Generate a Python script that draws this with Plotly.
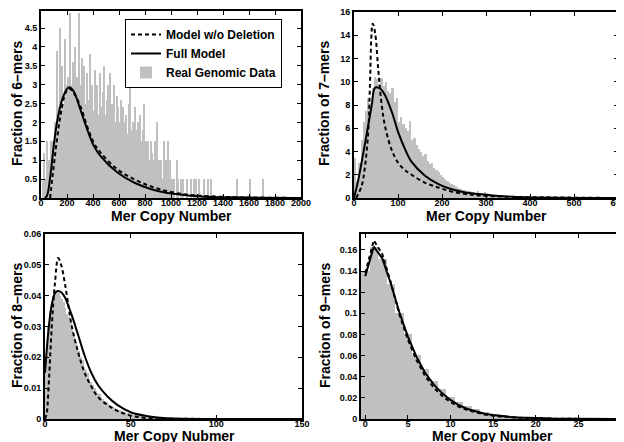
import plotly.graph_objects as go

# ---------------- data ----------------
# 6-mers histogram (bin width 10, centres 5..1095)
hist6_y = [
    0.0, 0.5, 1.2, 0.5, 1.5, 0.7, 1.0, 1.5, 0.5, 1.5,
    2.0, 1.6, 3.9, 2.4, 4.5, 2.8, 3.5, 2.5, 4.2, 3.0,
    3.2, 2.7, 4.9, 3.0, 3.6, 2.8, 4.0, 3.2, 2.6, 4.9,
    3.0, 3.7, 2.8, 3.5, 2.5, 3.3, 2.6, 3.8, 2.4, 3.0,
    2.3, 3.4, 2.6, 3.0, 2.2, 3.3, 2.4, 2.8, 3.5, 2.2,
    2.6, 3.0, 2.0, 3.3, 2.5, 2.2, 3.0, 2.0, 2.7, 2.4,
    2.0, 2.6, 1.8, 2.4, 2.0, 2.2, 1.7, 2.5, 3.0, 1.8,
    2.0, 1.5, 2.4, 1.8, 2.0, 1.5, 2.2, 1.5, 1.8, 2.5,
    1.5, 1.2, 1.5, 1.0, 1.5, 1.2, 1.0, 1.5, 1.2, 2.0,
    1.0, 0.5, 1.0, 0.5, 1.5, 0.5, 1.0, 1.5, 0.5, 1.0,
    0.5, 0.0, 0.5, 0.0, 1.0, 0.5, 0.0, 0.5, 0.0, 0.5,
]
hist6_x = [5 + 10 * i for i in range(len(hist6_y))]
sparse6_x = [1125, 1155, 1175, 1195, 1215, 1255, 1285, 1305, 1505, 1605, 1705]
sparse6_y = [0.5, 0.5, 0.5, 0.5, 0.5, 0.5, 0.5, 0.5, 0.5, 0.5, 0.5]

full6_x = [30, 46, 72, 98, 123, 162, 200, 219, 252, 303, 355, 406, 458, 586, 715, 843, 972, 1100, 1229, 1400, 1600, 2000]
full6_y = [0.0, 0.06, 0.59, 1.38, 2.0, 2.6, 2.89, 2.93, 2.82, 2.34, 1.82, 1.38, 1.11, 0.68, 0.41, 0.24, 0.13, 0.08, 0.04, 0.02, 0.01, 0.0]
nodel6_x = [70, 98, 123, 149, 188, 215, 252, 303, 355, 406, 458, 586, 715, 843, 972, 1100, 1229, 1486, 1700, 2000]
nodel6_y = [0.0, 0.85, 1.55, 2.17, 2.78, 2.9, 2.78, 2.43, 1.9, 1.46, 1.2, 0.76, 0.5, 0.31, 0.18, 0.1, 0.06, 0.02, 0.01, 0.0]

# 7-mers histogram (bin width 5, centres 2.5..347.5)
hist7_y = [
    3.4, 1.5, 3.0, 5.0, 6.5, 7.5, 8.6, 8.2, 9.5, 10.4,
    10.2, 9.8, 10.3, 9.6, 10.0, 9.2, 9.0, 9.5, 8.3, 8.6,
    6.5, 7.0, 6.4, 6.0, 5.8, 6.6, 5.0, 5.2, 4.6, 4.2,
    4.0, 3.6, 3.8, 3.2, 2.9, 3.0, 2.6, 2.4, 2.2, 2.0,
    1.8, 1.6, 1.5, 1.3, 1.2, 1.1, 1.0, 0.9, 0.8, 0.7,
    0.7, 0.6, 0.6, 0.5, 0.5, 0.4, 0.6, 0.4, 0.3, 0.5,
    0.3, 0.3, 0.2, 0.2, 0.2, 0.2, 0.1, 0.1, 0.1, 0.1,
]
hist7_x = [2.5 + 5 * i for i in range(len(hist7_y))]

full7_x = [0, 10, 25, 40, 48, 60, 71, 86, 101, 116, 131, 162, 192, 222, 253, 283, 321, 359, 400, 500, 600]
full7_y = [0.0, 1.6, 4.7, 7.9, 9.5, 9.4, 8.8, 7.4, 5.6, 4.2, 3.1, 1.9, 1.2, 0.75, 0.48, 0.34, 0.2, 0.1, 0.05, 0.0, 0.0]
nodel7_x = [5, 17, 25, 33, 36, 42.5, 48, 55, 63, 71, 86, 101, 116, 131, 162, 192, 222, 253, 283, 359, 450, 600]
nodel7_y = [0.0, 1.0, 2.7, 6.1, 9.4, 15.0, 14.2, 11.1, 8.0, 6.1, 4.1, 3.0, 2.4, 2.0, 1.3, 0.9, 0.55, 0.35, 0.22, 0.1, 0.05, 0.0]

# 8-mers histogram (bin width 1, centres 0..79)
hist8_y = [
    0.015, 0.020, 0.030, 0.035, 0.038, 0.040, 0.041, 0.0415, 0.041, 0.040,
    0.039, 0.038, 0.036, 0.034, 0.033, 0.031, 0.029, 0.027, 0.025, 0.024,
    0.022, 0.020, 0.019, 0.017, 0.016, 0.015, 0.013, 0.012, 0.011, 0.010,
    0.009, 0.0085, 0.008, 0.0072, 0.0066, 0.006, 0.0054, 0.005, 0.0045, 0.0042,
    0.004, 0.0036, 0.0033, 0.003, 0.0028, 0.0026, 0.0024, 0.0022, 0.002, 0.0019,
    0.002, 0.0016, 0.0014, 0.0013, 0.0012, 0.0011, 0.001, 0.0009, 0.0008, 0.0008,
    0.001, 0.0007, 0.0006, 0.0006, 0.0005, 0.0005, 0.0004, 0.0004, 0.0004, 0.0003,
    0.0003, 0.0003, 0.0002, 0.0002, 0.0002, 0.0002, 0.0001, 0.0001, 0.0001, 0.0001,
]
hist8_x = list(range(len(hist8_y)))

full8_x = [0, 1.9, 3.9, 6.0, 7.7, 9.6, 11.6, 15.4, 19.3, 23.1, 27, 30.8, 36.6, 42.4, 50, 60, 69, 80, 150]
full8_y = [0.015, 0.028, 0.037, 0.0410, 0.0415, 0.0410, 0.0395, 0.034, 0.0273, 0.0206, 0.015, 0.0111, 0.0072, 0.0045, 0.0022, 0.0009, 0.0003, 0.0001, 0.0]
nodel8_x = [0, 1, 1.9, 3.9, 5.8, 7.7, 9.6, 11.6, 13.5, 15.4, 19.3, 23.1, 27, 30.8, 36.6, 42.4, 50, 60, 75, 150]
nodel8_y = [0.0, 0.0017, 0.0084, 0.0295, 0.044, 0.0522, 0.0496, 0.044, 0.0373, 0.0307, 0.0217, 0.015, 0.0106, 0.0072, 0.0045, 0.0026, 0.0011, 0.0003, 0.0001, 0.0]

# 9-mers histogram (bin width 1, centres 0..29)
hist9_y = [
    0.140, 0.163, 0.151, 0.128, 0.100, 0.080, 0.061, 0.047, 0.036, 0.028,
    0.021, 0.016, 0.012, 0.009, 0.007, 0.005, 0.004, 0.003, 0.002, 0.0015,
    0.001, 0.0008, 0.0006, 0.0004, 0.0003, 0.0002, 0.0001, 0.0001, 0.0001, 0.0001,
]
hist9_x = list(range(len(hist9_y)))

full9_x = [0, 1, 2, 3, 4, 5, 6, 7, 8, 9, 10, 11, 12, 13, 14, 15, 16, 17, 18, 19, 20, 22, 25, 30]
full9_y = [0.135, 0.163, 0.152, 0.128, 0.101, 0.078, 0.059, 0.044, 0.033, 0.0245, 0.018, 0.013, 0.0095, 0.007, 0.005, 0.0037, 0.0027, 0.002, 0.0015, 0.0011, 0.0008, 0.0004, 0.0002, 0.00005]
nodel9_x = [0, 1, 2, 3, 4, 5, 6, 7, 8, 9, 10, 11, 12, 13, 14, 15, 16, 18, 20, 22, 25, 30]
nodel9_y = [0.138, 0.169, 0.156, 0.129, 0.099, 0.075, 0.056, 0.041, 0.030, 0.022, 0.016, 0.0115, 0.0083, 0.006, 0.0043, 0.0031, 0.0022, 0.0012, 0.0006, 0.0003, 0.0001, 0.0]

x_titles = ["Mer Copy Number", "Mer Copy Number", "Mer Copy Nubmer", "Mer Copy Number"]
y_titles = ["Fraction of 6–mers", "Fraction of 7–mers", "Fraction of 8–mers", "Fraction of 9–mers"]
legend_names = ["Model w/o Deletion", "Full Model", "Real Genomic Data"]

# ---------------- figure ----------------
OFF = 8                      # page body margin of the browser
W, H = 624 - OFF, 442 - OFF
GRAY = "#c0c0c0"
FONT = "Liberation Sans, Arial, sans-serif"


def clamp(v):
    return min(1.0, max(0.0, v))


def px(xp):
    return (xp - OFF) / W


def py(yp):
    return 1 - (yp - OFF) / H


fig = go.Figure()

panels = [
    dict(hx=hist6_x + sparse6_x, hy=hist6_y + sparse6_y, bw=10,
         fx=full6_x, fy=full6_y, nx=nodel6_x, ny=nodel6_y, spline=True),
    dict(hx=hist7_x, hy=hist7_y, bw=5,
         fx=full7_x, fy=full7_y, nx=nodel7_x, ny=nodel7_y, spline=True),
    dict(hx=hist8_x, hy=hist8_y, bw=1,
         fx=full8_x, fy=full8_y, nx=nodel8_x, ny=nodel8_y, spline=True),
    dict(hx=hist9_x, hy=hist9_y, bw=1,
         fx=full9_x, fy=full9_y, nx=nodel9_x, ny=nodel9_y, spline=False),
]

for i, p in enumerate(panels):
    xa = "x" if i == 0 else f"x{i+1}"
    ya = "y" if i == 0 else f"y{i+1}"
    show = i == 0
    fig.add_trace(go.Bar(x=p["hx"], y=p["hy"], width=p["bw"], marker=dict(color=GRAY, line=dict(width=0)),
                         name=legend_names[2], showlegend=show, legendrank=3, xaxis=xa, yaxis=ya))
    shape = "spline" if p["spline"] else "linear"
    fig.add_trace(go.Scatter(x=p["nx"], y=p["ny"], mode="lines",
                             line=dict(color="black", width=2, dash="4px,3px", shape=shape),
                             name=legend_names[0], showlegend=show, legendrank=1, xaxis=xa, yaxis=ya))
    fig.add_trace(go.Scatter(x=p["fx"], y=p["fy"], mode="lines",
                             line=dict(color="black", width=2, shape=shape),
                             name=legend_names[1], showlegend=show, legendrank=2, xaxis=xa, yaxis=ya))

# pixel boxes in the page: (left, right, top, bottom)
boxes = [(41, 301, 11, 198), (354, 618, 12, 198), (45, 302, 234, 419), (361, 621, 234, 419)]
xranges = [[0, 2000], [0, 600], [0, 150], [-0.5, 30]]
yranges = [[0, 4.95], [0, 16], [0, 0.06], [0, 0.175]]
xdt = [200, 100, 50, 5]
ydt = [0.5, 2, 0.01, 0.02]

tickfont = dict(family=FONT, size=9, color="black", weight="bold")
common = dict(showline=True, linecolor="black", linewidth=2, mirror="allticks", ticks="inside",
              ticklen=4, tickwidth=1, tickcolor="black", showgrid=False, zeroline=False,
              tickfont=tickfont, fixedrange=True, automargin=False, ticklabeloverflow="allow")

for i, (l, r, t, b) in enumerate(boxes):
    sx = "" if i == 0 else str(i + 1)
    fig.layout[f"xaxis{sx}"] = dict(domain=[clamp(px(l)), clamp(px(r))], range=xranges[i], dtick=xdt[i], tick0=0,
                                    anchor=f"y{sx}", ticklabelstandoff=-5, **common)
    fig.layout[f"yaxis{sx}"] = dict(domain=[clamp(py(b)), clamp(py(t))], range=yranges[i], dtick=ydt[i], tick0=0,
                                    anchor=f"x{sx}", **common)

title_font = dict(family=FONT, size=14, color="black", weight="bold")
xt_pos = [(171, 216), (486, 216), (174, 435.5), (492, 435.5)]
yt_pos = [(17, 104), (324, 104), (17, 326), (325, 326)]
for i in range(4):
    fig.add_annotation(text=x_titles[i], x=px(xt_pos[i][0]), y=py(xt_pos[i][1]), xref="paper", yref="paper",
                       xanchor="center", yanchor="middle", showarrow=False, font=title_font)
    fig.add_annotation(text=y_titles[i], x=px(yt_pos[i][0]), y=py(yt_pos[i][1]), xref="paper", yref="paper",
                       xanchor="center", yanchor="middle", showarrow=False, font=title_font, textangle=-90)

fig.update_layout(
    width=W, height=H, margin=dict(l=0, r=0, t=0, b=0),
    paper_bgcolor="white", plot_bgcolor="white",
    barmode="overlay", bargap=0,
    showlegend=True,
    legend=dict(x=px(125), y=py(19), xanchor="left", yanchor="top",
                bgcolor="white", bordercolor="black", borderwidth=1,
                font=dict(family=FONT, size=12, color="black", weight="bold"),
                tracegroupgap=0, itemwidth=30),
)

fig.write_html("out.html")
